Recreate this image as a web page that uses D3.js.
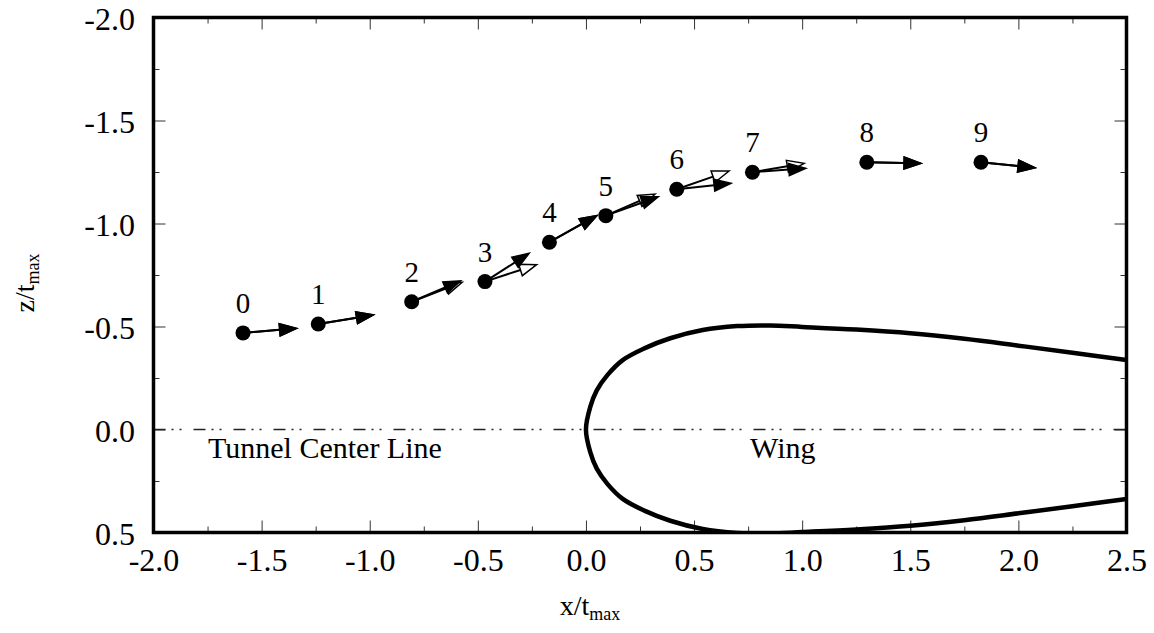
<!DOCTYPE html>
<html>
<head>
<meta charset="utf-8">
<script src="https://d3js.org/d3.v7.min.js"></script>
<style>
  body { margin: 0; background: #fff; }
  svg { display: block; font-family: "Liberation Serif", "Times New Roman", serif; }
</style>
</head>
<body>
<div id="chart"></div>
<script>
// measurement stations
const pointLabels = ["0", "1", "2", "3", "4", "5", "6", "7", "8", "9"];
const xPos = [-1.586, -1.238, -0.806, -0.467, -0.169, 0.092, 0.420, 0.770, 1.299, 1.827];
const zPos = [-0.469, -0.512, -0.620, -0.718, -0.909, -1.038, -1.166, -1.249, -1.297, -1.297];

// velocity vectors (solid head) and second set (open head)
const uFilled = [0.248, 0.255, 0.227, 0.205, 0.219, 0.243, 0.251, 0.247, 0.251, 0.250];
const wFilled = [-0.022, -0.044, -0.102, -0.138, -0.129, -0.092, -0.029, -0.019, 0.005, 0.026];
const uOpen = [0.248, 0.255, 0.234, 0.239, 0.219, 0.228, 0.242, 0.239, 0.251, 0.250];
const wOpen = [-0.022, -0.044, -0.095, -0.082, -0.129, -0.105, -0.089, -0.043, 0.005, 0.026];

// wing upper surface (half thickness), symmetric
const wingX = [0, 0.02, 0.05, 0.1, 0.17, 0.27, 0.39, 0.54, 0.7, 0.85, 1.0, 1.25, 1.5, 1.75, 2.0, 2.25, 2.5];
const wingZ = [0, 0.11, 0.19, 0.265, 0.337, 0.394, 0.443, 0.483, 0.502, 0.505, 0.498, 0.485, 0.467, 0.44, 0.407, 0.373, 0.337];

// axis ticks
const xTicks = [-2.0, -1.5, -1.0, -0.5, 0.0, 0.5, 1.0, 1.5, 2.0, 2.5];
const xMinor = [-1.75, -1.25, -0.75, -0.25, 0.25, 0.75, 1.25, 1.75, 2.25];
const zTicks = [-2.0, -1.5, -1.0, -0.5, 0.0, 0.5];
const zMinor = [-1.75, -1.25, -0.75, -0.25, 0.25];

// annotations
const noteText = ["Tunnel Center Line", "Wing"];
const noteX = [-1.748, 0.759];
const noteZ = [0.138, 0.14];

const width = 1154;
const height = 633;
const pLeft = 153.5, pRight = 1126.5, pTop = 17.5, pBottom = 532.5;

const x = d3.scaleLinear().domain([-2, 2.5]).range([pLeft, pRight]);
const y = d3.scaleLinear().domain([-2, 0.5]).range([pTop, pBottom]);

const svg = d3.select("#chart")
  .append("svg")
  .attr("width", width)
  .attr("height", height);

const fmt = d => d.toFixed(1);

// ticks point inward on all four sides
function drawAxis(axis, tx, ty, labels) {
  const g = svg.append("g")
    .attr("transform", `translate(${tx},${ty})`)
    .call(axis);
  g.select(".domain").remove();
  g.selectAll(".tick line").attr("stroke", "#333").attr("stroke-width", 1);
  if (!labels) g.selectAll(".tick text").remove();
  return g;
}

const xb = drawAxis(d3.axisBottom(x).tickValues(xTicks).tickSize(-12).tickPadding(15.5).tickFormat(fmt), 0, pBottom, true);
drawAxis(d3.axisBottom(x).tickValues(xMinor).tickSize(-6), 0, pBottom, false);
drawAxis(d3.axisTop(x).tickValues(xTicks).tickSize(-12), 0, pTop, false);
drawAxis(d3.axisTop(x).tickValues(xMinor).tickSize(-6), 0, pTop, false);
const yl = drawAxis(d3.axisLeft(y).tickValues(zTicks).tickSize(-12).tickPadding(18.5).tickFormat(fmt), pLeft, 0, true);
drawAxis(d3.axisLeft(y).tickValues(zMinor).tickSize(-6), pLeft, 0, false);
drawAxis(d3.axisRight(y).tickValues(zTicks).tickSize(-12), pRight, 0, false);
drawAxis(d3.axisRight(y).tickValues(zMinor).tickSize(-6), pRight, 0, false);

xb.selectAll("text").style("font-size", "32px").style("font-family", "Liberation Serif, serif").attr("fill", "#000");
yl.selectAll("text").style("font-size", "32px").style("font-family", "Liberation Serif, serif").attr("fill", "#000").attr("dy", "0.38em");

// clip for plot contents
svg.append("clipPath").attr("id", "plotclip")
  .append("rect")
  .attr("x", pLeft).attr("y", pTop)
  .attr("width", pRight - pLeft).attr("height", pBottom - pTop);

const plot = svg.append("g").attr("clip-path", "url(#plotclip)");

// tunnel center line
plot.append("line")
  .attr("x1", x(-2)).attr("x2", x(2.5))
  .attr("y1", y(0)).attr("y2", y(0))
  .attr("stroke", "#222")
  .attr("stroke-width", 1.5)
  .attr("stroke-dasharray", "12,6,2,6,2,12");

// wing outline: lower surface back to the nose, then upper surface
const lowerPts = wingX.map((d, i) => [d, wingZ[i]]).reverse();
const upperPts = wingX.map((d, i) => [d, -wingZ[i]]).slice(1);
const wingLine = d3.line()
  .x(d => x(d[0]))
  .y(d => y(d[1]))
  .curve(d3.curveCatmullRom);

plot.append("path")
  .attr("d", wingLine(lowerPts.concat(upperPts)))
  .attr("fill", "none")
  .attr("stroke", "#000")
  .attr("stroke-width", 4.5);

// annotations
svg.selectAll("text.note")
  .data(noteText)
  .enter()
  .append("text")
  .attr("class", "note")
  .attr("x", (d, i) => x(noteX[i]))
  .attr("y", (d, i) => y(noteZ[i]))
  .style("font-size", "30px")
  .text(d => d);

// arrows
function arrowPath(i, u, w) {
  const x0 = x(xPos[i]), y0 = y(zPos[i]);
  const x1 = x(xPos[i] + u[i]), y1 = y(zPos[i] + w[i]);
  const ang = Math.atan2(y1 - y0, x1 - x0);
  const hl = 17, hw = 6;
  const bx = x1 - hl * Math.cos(ang), by = y1 - hl * Math.sin(ang);
  const px = -Math.sin(ang) * hw, py = Math.cos(ang) * hw;
  return {
    shaft: `M${x0},${y0}L${bx},${by}`,
    head: `M${x1},${y1}L${bx + px},${by + py}L${bx - px},${by - py}Z`
  };
}

function drawArrows(u, w, fill) {
  const g = svg.append("g");
  pointLabels.forEach((lab, i) => {
    const a = arrowPath(i, u, w);
    g.append("path").attr("d", a.shaft)
      .attr("stroke", "#000").attr("stroke-width", 2).attr("fill", "none");
    g.append("path").attr("d", a.head)
      .attr("stroke", "#000").attr("stroke-width", 1.5)
      .attr("stroke-linejoin", "miter")
      .attr("fill", fill);
  });
}

drawArrows(uOpen, wOpen, "#fff");
drawArrows(uFilled, wFilled, "#000");

// station dots
svg.selectAll("circle.pt")
  .data(pointLabels)
  .enter()
  .append("circle")
  .attr("class", "pt")
  .attr("cx", (d, i) => x(xPos[i]))
  .attr("cy", (d, i) => y(zPos[i]))
  .attr("r", 7.5)
  .attr("fill", "#000");

svg.selectAll("text.lab")
  .data(pointLabels)
  .enter()
  .append("text")
  .attr("class", "lab")
  .attr("x", (d, i) => x(xPos[i]))
  .attr("y", (d, i) => y(zPos[i]) - 20)
  .attr("text-anchor", "middle")
  .style("font-size", "29px")
  .text(d => d);

// frame
svg.append("rect")
  .attr("x", pLeft).attr("y", pTop)
  .attr("width", pRight - pLeft).attr("height", pBottom - pTop)
  .attr("fill", "none")
  .attr("stroke", "#000")
  .attr("stroke-width", 3.5);

// axis titles
const xt = svg.append("text")
  .attr("x", 590).attr("y", 615)
  .attr("text-anchor", "middle")
  .style("font-size", "28px");
xt.append("tspan").text("x/t");
xt.append("tspan").attr("dy", 5).style("font-size", "18px").text("max");

const yt = svg.append("text")
  .attr("transform", "translate(34,283) rotate(-90)")
  .attr("text-anchor", "middle")
  .style("font-size", "28px");
yt.append("tspan").text("z/t");
yt.append("tspan").attr("dy", 5).style("font-size", "18px").text("max");
</script>
</body>
</html>
